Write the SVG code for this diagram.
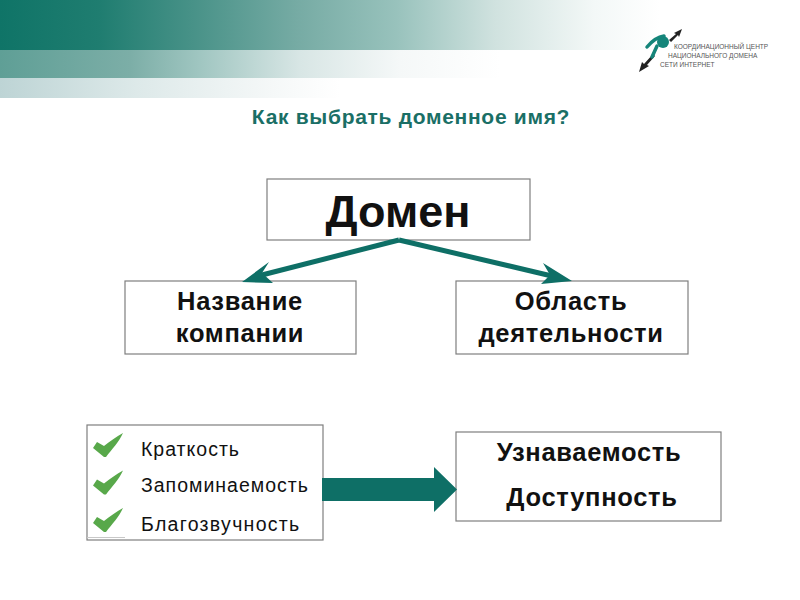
<svg xmlns="http://www.w3.org/2000/svg" width="800" height="600" viewBox="0 0 800 600">
<style>
.box{fill:#fff;stroke:#7f7f7f;stroke-width:1.2}
text{font-family:"Liberation Sans",Arial,sans-serif;fill:#111;text-anchor:middle}
.b{font-weight:bold;font-size:25.5px;letter-spacing:.7px}
.l{font-size:19.5px;text-anchor:start;letter-spacing:1px}
.lg{font-size:6.5px;text-anchor:start;fill:#555}
.c{fill:#58a84a}
.conn{fill:none;stroke:#0e6f66;stroke-width:5}
.head{fill:#0e6f66}
.sat{fill:none;stroke:#15857a;stroke-width:3.500;stroke-linecap:round}
</style>
<defs>
<linearGradient id="g1" gradientUnits="userSpaceOnUse" x1="0" x2="660" y1="0" y2="0"><stop offset="0" stop-color="#0f7467"/><stop offset=".15" stop-color="#1f7d70"/><stop offset=".3" stop-color="#4a9389"/><stop offset=".45" stop-color="#76aba4"/><stop offset=".6" stop-color="#98c2bc"/><stop offset=".75" stop-color="#d0e2df"/><stop offset=".9" stop-color="#f3f8f7"/><stop offset="1" stop-color="#fff"/></linearGradient>
<linearGradient id="g2" gradientUnits="userSpaceOnUse" x1="0" x2="500" y1="0" y2="0"><stop offset="0" stop-color="#5f9f96"/><stop offset=".26" stop-color="#7caea7"/><stop offset=".4" stop-color="#a0c6c1"/><stop offset=".6" stop-color="#d8e6e5"/><stop offset=".8" stop-color="#f5f8f8"/><stop offset="1" stop-color="#fff"/></linearGradient>
<linearGradient id="g3" gradientUnits="userSpaceOnUse" x1="0" x2="340" y1="0" y2="0"><stop offset="0" stop-color="#bdd4d5"/><stop offset=".4" stop-color="#dde9e9"/><stop offset=".8" stop-color="#f5f8f8"/><stop offset="1" stop-color="#fff"/></linearGradient>
<path id="chk" class="c" d="M0 11 L4 5 L11 9 C17 4 23 0 30 -4 C26 5 19 12 13 20 L11 20 Z"/>
</defs>
<rect width="800" height="600" fill="#fff"/>
<g id="banner">
<rect x="0" y="0" width="800" height="50" fill="url(#g1)"/>
<rect x="0" y="50" width="800" height="28" fill="url(#g2)"/>
<rect x="0" y="78" width="800" height="20" fill="url(#g3)"/>
</g>
<g id="logo">
<path d="M669 40 L676 34 L674 33 L682 29 L679 37 L678 35 L671 42 Z" fill="#222"/>
<path d="M655 56 L647 65 L649 66 L639 72 L642 62 L644 64 L653 54 Z" fill="#222"/>
<circle cx="663" cy="42" r="6" fill="#15857a"/>
<path class="sat" d="M647 47 C652 41 657 37 664 36"/>
<path class="sat" d="M652 57 L657 46"/>
<text class="lg" x="674" y="48.500">КООРДИНАЦИОННЫЙ ЦЕНТР</text>
<text class="lg" x="668" y="57.500">НАЦИОНАЛЬНОГО ДОМЕНА</text>
<text class="lg" x="660" y="66.500">СЕТИ ИНТЕРНЕТ</text>
</g>
<text id="title" x="411" y="123.500" style="font-size:21px;font-weight:bold;fill:#1a6f66;letter-spacing:.7px">Как выбрать доменное имя?</text>
<g id="node-domain"><rect class="box" x="267" y="179" width="263" height="61"/><text x="398" y="227" style="font-size:45px;font-weight:bold">Домен</text></g>
<g id="node-company"><rect class="box" x="125" y="281" width="231" height="73"/><text class="b" x="240" y="309.500">Название</text><text class="b" x="240" y="342">компании</text></g>
<g id="node-area"><rect class="box" x="456" y="281" width="232" height="73"/><text class="b" x="571" y="309.500">Область</text><text class="b" x="571" y="342">деятельности</text></g>
<g id="node-list"><rect class="box" x="87" y="425" width="236" height="115"/>
<path d="M87 537.500 L125 537.500" stroke="#c8c8c8" stroke-width="1" fill="none"/>
<use href="#chk" x="93" y="437"/><use href="#chk" x="93" y="474.500"/><use href="#chk" x="93" y="512"/>
<text class="l" x="141" y="455.500">Краткость</text><text class="l" x="141" y="492">Запоминаемость</text><text class="l" x="141" y="530.500" style="letter-spacing:1.300px">Благозвучность</text></g>
<g id="node-result"><rect class="box" x="456" y="432" width="265" height="89"/><text class="b" x="589" y="461">Узнаваемость</text><text class="b" x="592" y="506">Доступность</text></g>
<g id="connectors">
<path class="conn" d="M399 240 L258 276"/><path class="conn" d="M399 240 L556 277"/>
<path class="head" d="M242 282 L269 262 L262 273 L273 283 Z"/>
<path class="head" d="M572 281 L543 263 L550 275 L541 284 Z"/>
<path class="head" d="M322 478 L434 478 L434 467 L457 489.500 L434 512 L434 501 L322 501 Z"/>
</g>
</svg>
